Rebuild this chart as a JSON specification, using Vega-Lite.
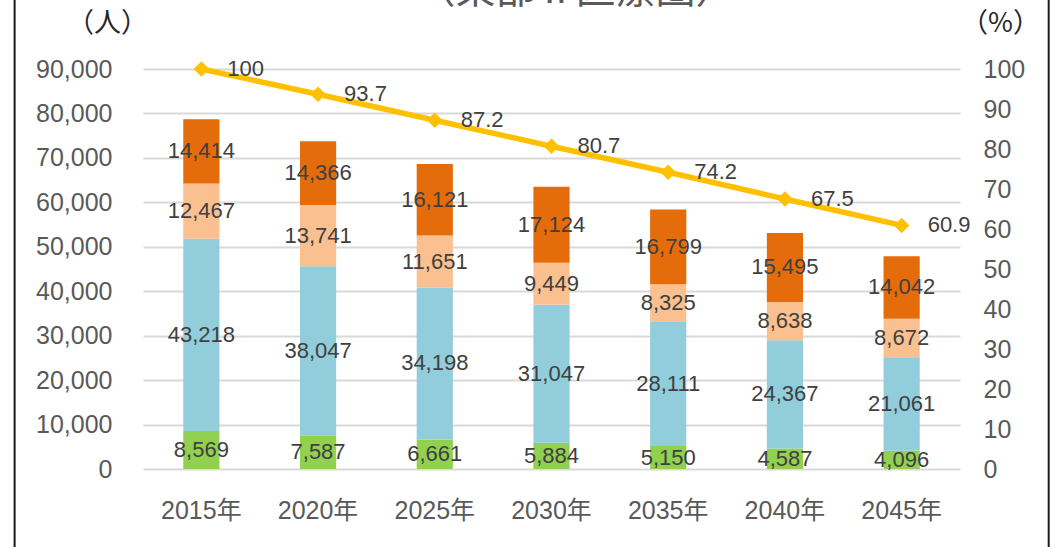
{
  "$schema": "https://vega.github.io/schema/vega-lite/v6.json",
  "width": 817,
  "height": 400,
  "autosize": {"type": "none"},
  "padding": {"left": 143, "top": 69, "right": 96, "bottom": 78},
  "background": "white",
  "config": {
    "view": {"stroke": null},
    "font": "Liberation Sans, Noto Sans CJK JP",
    "axis": {"labelFont": "Liberation Sans, Noto Sans CJK JP", "titleFont": "Noto Sans CJK JP"}
  },
  "title": {
    "text": "（東部Ⅱ医療圏）",
    "font": "Noto Sans CJK JP",
    "fontSize": 40,
    "fontWeight": "normal",
    "color": "#595959",
    "anchor": "middle",
    "frame": "group",
    "dx": 24,
    "dy": 44,
    "baseline": "alphabetic",
    "offset": 0
  },
  "datasets": {
    "pop": [
      {"year": "2015年", "series": "0～14歳", "value": 8569},
      {"year": "2015年", "series": "15～64歳", "value": 43218},
      {"year": "2015年", "series": "65～74歳", "value": 12467},
      {"year": "2015年", "series": "75歳以上", "value": 14414},
      {"year": "2020年", "series": "0～14歳", "value": 7587},
      {"year": "2020年", "series": "15～64歳", "value": 38047},
      {"year": "2020年", "series": "65～74歳", "value": 13741},
      {"year": "2020年", "series": "75歳以上", "value": 14366},
      {"year": "2025年", "series": "0～14歳", "value": 6661},
      {"year": "2025年", "series": "15～64歳", "value": 34198},
      {"year": "2025年", "series": "65～74歳", "value": 11651},
      {"year": "2025年", "series": "75歳以上", "value": 16121},
      {"year": "2030年", "series": "0～14歳", "value": 5884},
      {"year": "2030年", "series": "15～64歳", "value": 31047},
      {"year": "2030年", "series": "65～74歳", "value": 9449},
      {"year": "2030年", "series": "75歳以上", "value": 17124},
      {"year": "2035年", "series": "0～14歳", "value": 5150},
      {"year": "2035年", "series": "15～64歳", "value": 28111},
      {"year": "2035年", "series": "65～74歳", "value": 8325},
      {"year": "2035年", "series": "75歳以上", "value": 16799},
      {"year": "2040年", "series": "0～14歳", "value": 4587},
      {"year": "2040年", "series": "15～64歳", "value": 24367},
      {"year": "2040年", "series": "65～74歳", "value": 8638},
      {"year": "2040年", "series": "75歳以上", "value": 15495},
      {"year": "2045年", "series": "0～14歳", "value": 4096},
      {"year": "2045年", "series": "15～64歳", "value": 21061},
      {"year": "2045年", "series": "65～74歳", "value": 8672},
      {"year": "2045年", "series": "75歳以上", "value": 14042}
    ],
    "idx": [
      {"year": "2015年", "index": 100},
      {"year": "2020年", "index": 93.7},
      {"year": "2025年", "index": 87.2},
      {"year": "2030年", "index": 80.7},
      {"year": "2035年", "index": 74.2},
      {"year": "2040年", "index": 67.5},
      {"year": "2045年", "index": 60.9}
    ]
  },
  "layer": [
    {
      "data": {"name": "pop"},
      "layer": [
        {
          "mark": {"type": "bar"},
          "encoding": {
            "x": {
              "field": "year", "type": "nominal", "sort": null, "title": null,
              "scale": {"paddingInner": 0.69, "paddingOuter": 0.345},
              "axis": {"labelAngle": 0, "labelFontSize": 25, "labelColor": "#595959", "labelPadding": 29, "ticks": false, "tickSize": 0, "domain": false, "grid": false}
            },
            "y": {
              "field": "value", "type": "quantitative", "stack": "zero",
              "scale": {"domain": [0, 90000], "nice": false},
              "axis": {
                "values": [0, 10000, 20000, 30000, 40000, 50000, 60000, 70000, 80000, 90000],
                "format": ",d", "labelFontSize": 25, "labelColor": "#595959", "labelPadding": 31,
                "labelOverlap": false,
                "ticks": false, "tickSize": 0, "domain": false,
                "grid": true, "gridColor": "#D9D9D9", "gridWidth": 2,
                "title": "（人）", "titleAngle": 0, "titleX": -36, "titleY": -46,
                "titleAlign": "center", "titleBaseline": "middle", "titleFontSize": 27,
                "titleFontWeight": "normal", "titleColor": "#262626"
              }
            },
            "color": {
              "field": "series", "type": "nominal",
              "scale": {"domain": ["0～14歳", "15～64歳", "65～74歳", "75歳以上"], "range": ["#92D050", "#92CDDC", "#FAC090", "#E46C0A"]},
              "legend": null
            },
            "order": {"field": "series"}
          }
        },
        {
          "mark": {"type": "text", "fontSize": 22, "color": "#404040", "baseline": "middle", "font": "Liberation Sans"},
          "encoding": {
            "x": {"field": "year", "type": "nominal", "sort": null, "title": null},
            "y": {"field": "value", "type": "quantitative", "stack": "zero", "bandPosition": 0.5},
            "detail": {"field": "series"},
            "order": {"field": "series"},
            "text": {"field": "value", "type": "quantitative", "format": ",d"}
          }
        }
      ]
    },
    {
      "data": {"name": "idx"},
      "layer": [
        {
          "mark": {"type": "line", "color": "#FFC000", "strokeWidth": 5.5},
          "encoding": {
            "x": {"field": "year", "type": "nominal", "sort": null, "title": null,
                  "scale": {"paddingInner": 0.69, "paddingOuter": 0.345}, "axis": null},
            "y": {
              "field": "index", "type": "quantitative",
              "scale": {"domain": [0, 100], "nice": false},
              "axis": {
                "orient": "right",
                "values": [0, 10, 20, 30, 40, 50, 60, 70, 80, 90, 100],
                "labelFontSize": 25, "labelColor": "#595959", "labelPadding": 23,
                "labelOverlap": false,
                "ticks": false, "tickSize": 0, "domain": false, "grid": false,
                "title": "（%）", "titleAngle": 0, "titleX": 40, "titleY": -46,
                "titleAlign": "center", "titleBaseline": "middle", "titleFontSize": 27,
                "titleFontWeight": "normal", "titleColor": "#262626"
              }
            }
          }
        },
        {
          "mark": {"type": "point", "shape": "diamond", "filled": true, "color": "#FFC000", "size": 240, "opacity": 1},
          "encoding": {
            "x": {"field": "year", "type": "nominal", "sort": null},
            "y": {"field": "index", "type": "quantitative", "axis": {"orient": "right", "values": [0, 10, 20, 30, 40, 50, 60, 70, 80, 90, 100], "labelOverlap": false}}
          }
        },
        {
          "mark": {"type": "text", "align": "left", "baseline": "middle", "dx": 26, "fontSize": 22, "color": "#404040", "font": "Liberation Sans"},
          "encoding": {
            "x": {"field": "year", "type": "nominal", "sort": null},
            "y": {"field": "index", "type": "quantitative", "axis": {"orient": "right", "values": [0, 10, 20, 30, 40, 50, 60, 70, 80, 90, 100], "labelOverlap": false}},
            "text": {"field": "index", "type": "quantitative"}
          }
        }
      ]
    },
    {
      "data": {"values": [{}]},
      "layer": [
        {
          "mark": {"type": "rule", "color": "#1A1A1A", "strokeWidth": 2},
          "encoding": {
            "x": {"datum": 2007.0, "type": "quantitative", "scale": {"domain": [2012.5, 2047.5], "nice": false, "zero": false}, "axis": null},
            "y": {"datum": -0.2, "type": "quantitative", "scale": {"domain": [0, 1], "nice": false}, "axis": null},
            "y2": {"datum": 1.1725}
          }
        },
        {
          "mark": {"type": "rule", "color": "#1A1A1A", "strokeWidth": 2},
          "encoding": {
            "x": {"datum": 2051.3, "type": "quantitative"},
            "y": {"datum": -0.2, "type": "quantitative"},
            "y2": {"datum": 1.1725}
          }
        }
      ]
    }
  ],
  "resolve": {"scale": {"x": "independent", "y": "independent"}}
}
